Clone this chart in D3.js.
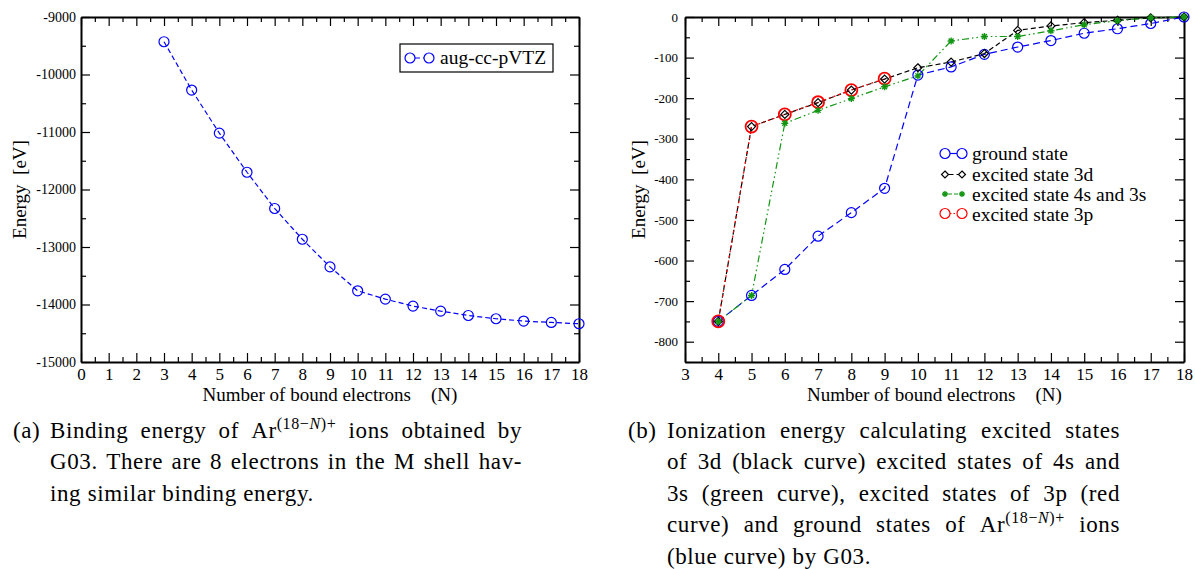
<!DOCTYPE html>
<html>
<head>
<meta charset="utf-8">
<script src="https://cdn.jsdelivr.net/npm/d3@7"></script>
<style>
body { margin: 0; background: #fff; }
svg text { font-family: "Liberation Serif", "Times New Roman", serif; fill: #000; }
</style>
</head>
<body>
<div id="chart"></div>
<script>
// panel (a): binding energy of Ar ions
const boundA = [3, 4, 5, 6, 7, 8, 9, 10, 11, 12, 13, 14, 15, 16, 17, 18];
const bindingEnergy = [-9430, -10270, -11020, -11700, -12330, -12865, -13346, -13762,
                       -13906, -14028, -14115, -14191, -14248, -14288, -14312, -14335];
const xTicksA = [0, 1, 2, 3, 4, 5, 6, 7, 8, 9, 10, 11, 12, 13, 14, 15, 16, 17, 18];
const yTicksA = [-15000, -14000, -13000, -12000, -11000, -10000, -9000];

// panel (b): ionization energies
const boundB = [4, 5, 6, 7, 8, 9, 10, 11, 12, 13, 14, 15, 16, 17, 18];
const groundState = [-750, -686, -622, -540, -482, -422, -143, -123, -92, -74, -58, -40, -29, -16, 0];
const excited3d   = [-750, -270, -240, -211, -180, -153, -125, -111, -90, -33, -22, -14, -8, -2, 0];
const excited4s3s = [-750, -686, -262, -230, -201, -172, -145, -59, -48, -48, -34, -19, -9, -2, 0];
const bound3p = [4, 5, 6, 7, 8, 9];
const excited3p = [-750, -270, -240, -210, -180, -152];
const xTicksB = [3, 4, 5, 6, 7, 8, 9, 10, 11, 12, 13, 14, 15, 16, 17, 18];
const yTicksB = [-800, -700, -600, -500, -400, -300, -200, -100, 0];

const W = 1195, H = 569;
const BLUE = "#0000ff", RED = "#ff0000", GREEN = "#129612", BLACK = "#000";

const svg = d3.select("#chart").append("svg")
    .attr("width", W).attr("height", H);

function halves(ticks) {
    const out = [];
    for (let i = 0; i < ticks.length - 1; i++) out.push((ticks[i] + ticks[i + 1]) / 2);
    return out;
}

function styleAxis(sel, fs) {
    sel.select(".domain").attr("stroke", "#000").attr("stroke-width", 2);
    sel.selectAll(".tick line").attr("stroke", "#000").attr("stroke-width", 1.2);
    sel.selectAll(".tick text").attr("font-size", fs)
        .attr("font-family", '"Liberation Serif", serif').attr("fill", "#000");
}

function panel(o) {
    const g = svg.append("g");
    const x = d3.scaleLinear().domain(o.xDomain).range([o.left, o.right]);
    const y = d3.scaleLinear().domain(o.yDomain).range([o.bottom, o.top]);
    const fmt = d => String(d);
    const xMinor = halves(o.xTicks);
    const yMinor = halves(o.yTicks).concat(o.yExtraMinor || []);

    // bottom
    g.append("g").attr("transform", `translate(0,${o.bottom})`)
        .call(d3.axisBottom(x).tickValues(xMinor).tickSize(-5).tickSizeOuter(0).tickFormat(""))
        .call(s => s.select(".domain").remove()).call(styleAxis, 0);
    g.append("g").attr("transform", `translate(0,${o.bottom})`)
        .call(d3.axisBottom(x).tickValues(o.xTicks).tickSize(-9).tickSizeOuter(0)
            .tickPadding(6).tickFormat(fmt))
        .call(styleAxis, 17);
    // top
    g.append("g").attr("transform", `translate(0,${o.top})`)
        .call(d3.axisTop(x).tickValues(xMinor).tickSize(-5).tickSizeOuter(0).tickFormat(""))
        .call(s => s.select(".domain").remove()).call(styleAxis, 0);
    g.append("g").attr("transform", `translate(0,${o.top})`)
        .call(d3.axisTop(x).tickValues(o.xTicks).tickSize(-9).tickSizeOuter(0).tickFormat(""))
        .call(styleAxis, 0);
    // left
    g.append("g").attr("transform", `translate(${o.left},0)`)
        .call(d3.axisLeft(y).tickValues(yMinor).tickSize(-5).tickSizeOuter(0).tickFormat(""))
        .call(s => s.select(".domain").remove()).call(styleAxis, 0);
    g.append("g").attr("transform", `translate(${o.left},0)`)
        .call(d3.axisLeft(y).tickValues(o.yTicks).tickSize(-9).tickSizeOuter(0)
            .tickPadding(o.yPad).tickFormat(fmt))
        .call(styleAxis, o.yFont);
    // right
    g.append("g").attr("transform", `translate(${o.right},0)`)
        .call(d3.axisRight(y).tickValues(yMinor).tickSize(-5).tickSizeOuter(0).tickFormat(""))
        .call(s => s.select(".domain").remove()).call(styleAxis, 0);
    g.append("g").attr("transform", `translate(${o.right},0)`)
        .call(d3.axisRight(y).tickValues(o.yTicks).tickSize(-9).tickSizeOuter(0).tickFormat(""))
        .call(styleAxis, 0);

    // axis titles
    const cx = (o.left + o.right) / 2;
    const xt = g.append("text").attr("x", cx).attr("y", 401)
        .attr("text-anchor", "middle").attr("font-size", 19);
    xt.append("tspan").text("Number of bound electrons");
    xt.append("tspan").attr("dx", 20).text("(N)");
    g.append("text")
        .attr("transform", `translate(${o.yTitleX},${(o.top + o.bottom) / 2}) rotate(-90)`)
        .attr("text-anchor", "middle").attr("font-size", 19)
        .style("white-space", "pre").text("Energy  [eV]");
    return { g, x, y };
}

function drawSeries(p, xs, ys, color, dash, width) {
    const pts = xs.map((d, i) => [d, ys[i]]);
    p.g.append("path").datum(pts)
        .attr("fill", "none").attr("stroke", color).attr("stroke-width", width || 1.2)
        .attr("stroke-dasharray", dash)
        .attr("d", d3.line().x(d => p.x(d[0])).y(d => p.y(d[1])));
    return pts;
}

function marker(g, cx, cy, type, color, r, sw) {
    if (type === "circle") {
        g.append("circle").attr("cx", cx).attr("cy", cy).attr("r", r)
            .attr("fill", "none").attr("stroke", color).attr("stroke-width", sw || 1.2);
    } else if (type === "diamond") {
        g.append("path").attr("d", `M${cx},${cy - r}L${cx + r},${cy}L${cx},${cy + r}L${cx - r},${cy}Z`)
            .attr("fill", "none").attr("stroke", color).attr("stroke-width", 1.2);
    } else if (type === "star") {
        let d = "";
        for (let k = 0; k < 4; k++) {
            const a = k * Math.PI / 4;
            d += `M${cx - r * Math.cos(a)},${cy - r * Math.sin(a)}L${cx + r * Math.cos(a)},${cy + r * Math.sin(a)}`;
        }
        g.append("path").attr("d", d).attr("stroke", color).attr("stroke-width", 1.4);
    }
}

function drawMarkers(p, pts, type, color, r, sw) {
    pts.forEach(d => marker(p.g, p.x(d[0]), p.y(d[1]), type, color, r, sw));
}

function legendRow(g, x1, x2, tx, cy, base, type, color, dash, r, label) {
    g.append("line").attr("x1", x1 + r).attr("x2", x2 - r).attr("y1", cy).attr("y2", cy)
        .attr("stroke", color).attr("stroke-width", 1.2).attr("stroke-dasharray", dash);
    marker(g, x1, cy, type, color, r);
    marker(g, x2, cy, type, color, r);
    g.append("text").attr("x", tx).attr("y", base).attr("font-size", 19.5).text(label);
}

// ---------- panel (a)
const pa = panel({
    xDomain: [0, 18], yDomain: [-15000, -9000],
    left: 81, right: 579, top: 17, bottom: 362,
    xTicks: xTicksA, yTicks: yTicksA, yFont: 14, yPad: 5, yTitleX: 25.5
});
const ptsA = drawSeries(pa, boundA, bindingEnergy, BLUE, "5,3");
drawMarkers(pa, ptsA, "circle", BLUE, 5);
pa.g.append("rect").attr("x", 400).attr("y", 44).attr("width", 153).attr("height", 28)
    .attr("fill", "#fff").attr("stroke", "#000").attr("stroke-width", 1.2);
legendRow(pa.g, 410, 429, 440, 58, 64, "circle", BLUE, "5,3", 5, "aug-cc-pVTZ");

// ---------- panel (b)
const pb = panel({
    xDomain: [3, 18], yDomain: [-850, 0],
    left: 685, right: 1184, top: 17, bottom: 362,
    xTicks: xTicksB, yTicks: yTicksB, yExtraMinor: [-850], yFont: 13, yPad: 7, yTitleX: 645
});
const ptsG = drawSeries(pb, boundB, groundState, BLUE, "7,4");
const ptsD = drawSeries(pb, boundB, excited3d, BLACK, "5,3");
const ptsP = drawSeries(pb, bound3p, excited3p, RED, "2,3");
const ptsS = drawSeries(pb, boundB, excited4s3s, GREEN, "7,3,1.5,3,1.5,3");
drawMarkers(pb, ptsG, "circle", BLUE, 5);
drawMarkers(pb, ptsP, "circle", RED, 6, 1.8);
drawMarkers(pb, ptsD, "diamond", BLACK, 4);
drawMarkers(pb, ptsS, "star", GREEN, 3.5);

legendRow(pb.g, 945, 962, 972, 153.5, 159.5, "circle", BLUE, "7,4", 5, "ground state");
legendRow(pb.g, 945, 962, 972, 174.5, 180.5, "diamond", BLACK, "5,3", 3.5, "excited state 3d");
legendRow(pb.g, 945, 962, 972, 194, 200.5, "star", GREEN, "4,2", 3, "excited state 4s and 3s");
legendRow(pb.g, 945, 962, 972, 213.5, 220.5, "circle", RED, "1.5,2", 5, "excited state 3p");

// ---------- captions (justified by word placement)
const FS = 23, SPACE = 6.5, LS = 0.6;
const arIon = [{ t: "Ar" }, { t: "(18−", sup: true, dy: -9 }, { t: "N", sup: true, it: true }, { t: ")+", sup: true }];

function captionLines(label, labelX, x0, x1, lines) {
    const g = svg.append("g");
    g.append("text").attr("x", labelX).attr("y", lines[0].y).attr("font-size", FS)
        .attr("letter-spacing", LS).text(label);
    lines.forEach(line => {
        const els = line.words.map(w => {
            const t = g.append("text").attr("y", line.y).attr("font-size", FS)
                .attr("letter-spacing", LS);
            if (typeof w === "string") t.text(w);
            else w.forEach(p => {
                const ts = t.append("tspan").text(p.t);
                if (p.sup) ts.attr("font-size", 16);
                if (p.dy) ts.attr("dy", p.dy);
                if (p.it) ts.attr("font-style", "italic");
            });
            return t;
        });
        const widths = els.map(t => t.node().getComputedTextLength());
        const total = d3.sum(widths);
        const gap = line.justify ? (x1 - x0 - total) / (els.length - 1) : SPACE;
        let cx = x0;
        els.forEach((t, i) => { t.attr("x", cx); cx += widths[i] + gap; });
    });
}

captionLines("(a)", 13, 50, 522, [
    { y: 437.5, justify: true, words: ["Binding", "energy", "of", arIon, "ions", "obtained", "by"] },
    { y: 469, justify: true, words: "G03. There are 8 electrons in the M shell hav-".split(" ") },
    { y: 500.5, justify: false, words: "ing similar binding energy.".split(" ") }
]);

captionLines("(b)", 628, 667, 1120, [
    { y: 437.5, justify: true, words: "Ionization energy calculating excited states".split(" ") },
    { y: 469, justify: true, words: "of 3d (black curve) excited states of 4s and".split(" ") },
    { y: 500.5, justify: true, words: "3s (green curve), excited states of 3p (red".split(" ") },
    { y: 532, justify: true, words: ["curve)", "and", "ground", "states", "of", arIon, "ions"] },
    { y: 563.5, justify: false, words: "(blue curve) by G03.".split(" ") }
]);
</script>
</body>
</html>
